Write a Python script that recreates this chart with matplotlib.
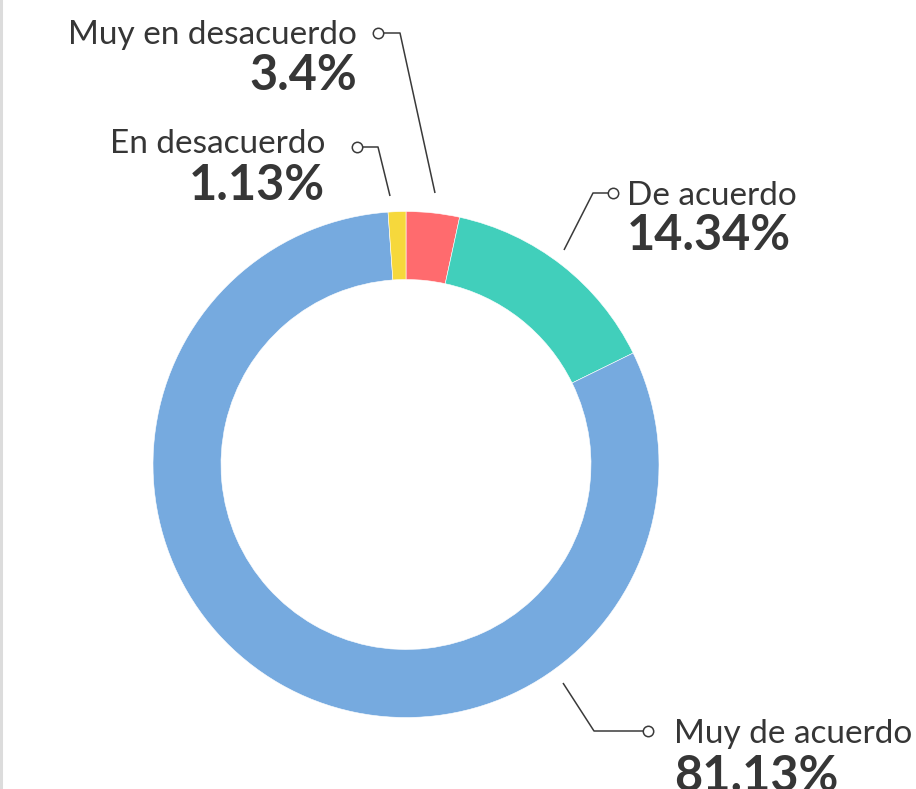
import matplotlib
matplotlib.use("Agg")
import matplotlib.pyplot as plt

# data
labels = ["Muy en desacuerdo", "De acuerdo", "Muy de acuerdo", "En desacuerdo"]
values = [3.4, 14.34, 81.13, 1.13]
colors = ["#FF6B6E", "#41CFBB", "#76AADF", "#F6D83C"]

W, H = 916, 789
plt.rcParams['font.family'] = ['Lato', 'DejaVu Sans']
TXT = "#363636"

fig = plt.figure(figsize=(W / 100, H / 100), dpi=100)
ax = fig.add_axes([0, 0, 1, 1])

def Y(py):
    return H - py

# donut
ax.pie(values, colors=colors, startangle=90, counterclock=False,
       center=(406, Y(464.5)), radius=253, frame=False,
       wedgeprops=dict(width=68, edgecolor='white', linewidth=0.4))
ax.set_xlim(0, W)
ax.set_ylim(0, H)
ax.set_aspect('equal')
ax.axis('off')

# leader lines in pixel coords, hollow circle at first point
leaders = {
    "Muy en desacuerdo": [(378, 33), (400, 33), (435, 193)],
    "En desacuerdo": [(357, 147), (378, 147), (390, 196)],
    "De acuerdo": [(613, 193), (593, 193), (564, 250)],
    "Muy de acuerdo": [(648, 731), (594, 731), (563, 683)],
}
# x, name baseline, percent baseline, alignment
anchors = {
    "Muy en desacuerdo": (357, 44, 90, 'right'),
    "En desacuerdo": (325, 153, 200, 'right'),
    "De acuerdo": (627, 205, 250, 'left'),
    "Muy de acuerdo": (674, 743, 791, 'left'),
}

for lab, val in zip(labels, values):
    pts = leaders[lab]
    xs = [p[0] for p in pts]
    ys = [Y(p[1]) for p in pts]
    ax.plot(xs, ys, color="#3a3a3a", lw=1.1, zorder=3, solid_capstyle='butt')
    ax.plot(xs[0], ys[0], 'o', ms=7.5, mfc='white', mec='#3a3a3a', mew=1.1, zorder=4)
    x, yn, yp, ha = anchors[lab]
    ax.text(x, Y(yn), lab, ha=ha, va='baseline', fontsize=24, color=TXT)
    ax.text(x, Y(yp), "%g%%" % val, ha=ha, va='baseline', fontsize=35,
            fontweight='bold', color=TXT)

# left border
ax.plot([1, 1], [0, H], color="#dcdcdc", lw=2.2, clip_on=False)

fig.savefig("out.png", dpi=100)
